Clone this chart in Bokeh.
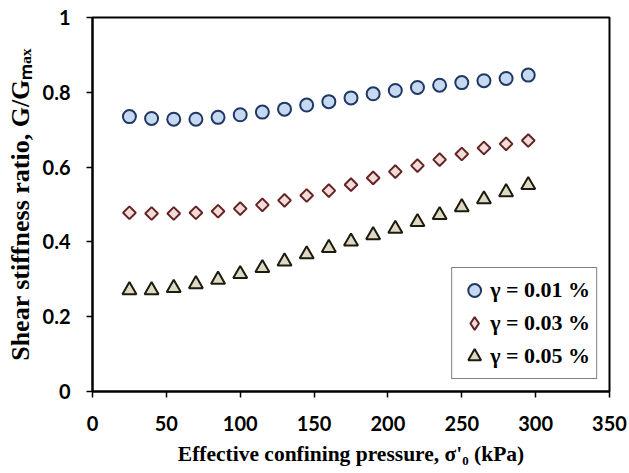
import numpy as np
from bokeh.plotting import figure
from bokeh.models import Range1d, FixedTicker, CustomJSTickFormatter, Legend, LegendItem
from bokeh.embed import file_html
from bokeh.resources import INLINE

# ---------------- data ----------------
pressure = [25, 40, 55, 70, 85, 100, 115, 130, 145, 160, 175, 190, 205, 220, 235, 250, 265, 280, 295]
ratio_001 = [0.735, 0.730, 0.728, 0.728, 0.733, 0.740, 0.747, 0.755, 0.766, 0.775,
             0.785, 0.796, 0.805, 0.813, 0.819, 0.826, 0.831, 0.837, 0.846]
ratio_003 = [0.478, 0.476, 0.476, 0.478, 0.482, 0.489, 0.499, 0.511, 0.524, 0.537,
             0.553, 0.571, 0.588, 0.604, 0.620, 0.635, 0.651, 0.662, 0.671]
ratio_005 = [0.271, 0.271, 0.277, 0.287, 0.299, 0.314, 0.330, 0.348, 0.367, 0.384,
             0.401, 0.418, 0.435, 0.453, 0.472, 0.493, 0.514, 0.533, 0.552]
legend_labels = ["\u03b3 = 0.01 %", "\u03b3 = 0.03 %", "\u03b3 = 0.05 %"]
x_ticks = [0, 50, 100, 150, 200, 250, 300, 350]
y_ticks = [0, 0.2, 0.4, 0.6, 0.8, 1.0]
x_title = "Effective confining pressure, \u03c3'\u2080 (kPa)"
y_title = "Shear stiffness ratio, G/G\u2098\u2090\u2093"

# ---------------- layout ----------------
W, H = 628, 472
BL, BT, FW, FH = 92, 17, 517, 374
p = figure(width=W, height=H, output_backend="svg", toolbar_location=None,
           x_range=Range1d(0, 350), y_range=Range1d(0, 1),
           min_border_left=BL, min_border_right=W - BL - FW,
           min_border_top=BT, min_border_bottom=H - BT - FH)
p.background_fill_color = "white"
p.border_fill_color = "white"
p.outline_line_color = "black"
p.outline_line_width = 2
p.grid.visible = False

fmt = CustomJSTickFormatter(code="return String(Math.round(tick*10)/10);")
p.xaxis.ticker = FixedTicker(ticks=x_ticks)
p.yaxis.ticker = FixedTicker(ticks=y_ticks)
for ax in (p.xaxis[0], p.yaxis[0]):
    ax.formatter = fmt
    ax.axis_line_width = 2
    ax.axis_line_color = "black"
    ax.major_tick_line_width = 1.5
    ax.major_tick_line_color = "black"
    ax.major_tick_out = 6
    ax.major_tick_in = 0
    ax.minor_tick_line_color = None
    ax.major_label_text_font = "Lato"
    ax.major_label_text_font_style = "bold"
    ax.major_label_text_font_size = "20px"
    ax.major_label_text_color = "black"
    ax.axis_label_text_font = "Liberation Serif"
    ax.axis_label_text_font_style = "bold"
    ax.axis_label_text_color = "black"
p.xaxis.major_label_standoff = 18
p.yaxis.major_label_standoff = 16
p.xaxis.axis_label = x_title
p.xaxis.axis_label_text_font_size = "21.5px"
p.xaxis.axis_label_standoff = 8
p.yaxis.axis_label = y_title
p.yaxis.axis_label_text_font_size = "26px"
p.yaxis.axis_label_standoff = 5

# ---------------- series ----------------
c1 = dict(fill_color="#c6d9f1", line_color="#1f3864", line_width=2)
c2 = dict(fill_color="#f2dcdb", line_color="#632523", line_width=2)
c3 = dict(fill_color="#ddd9c3", line_color="#1d1b10", line_width=2)
r1 = p.scatter(pressure, ratio_001, marker="circle", size=13, **c1)
r2 = p.scatter(pressure, ratio_003, marker="square", angle=np.pi / 4, size=9, **c2)
r3 = p.scatter(pressure, ratio_005, marker="triangle", size=14, **c3)
# legend key for the diamond series (legend glyphs are drawn unrotated)
r2_key = p.scatter(x=[np.nan], y=[np.nan], marker="diamond", **c2)

legend = Legend(items=[LegendItem(label=legend_labels[0], renderers=[r1]),
                       LegendItem(label=legend_labels[1], renderers=[r2_key]),
                       LegendItem(label=legend_labels[2], renderers=[r3])],
                location="bottom_right", margin=12, padding=6, spacing=1,
                glyph_width=32, glyph_height=32, label_height=32, label_standoff=-7,
                label_text_font="Liberation Serif", label_text_font_style="bold",
                label_text_font_size="22px", label_text_color="black",
                border_line_color="black", border_line_width=1.5,
                background_fill_color="white", background_fill_alpha=1)
p.add_layout(legend)

open("out.html", "w").write(file_html(p, INLINE))
